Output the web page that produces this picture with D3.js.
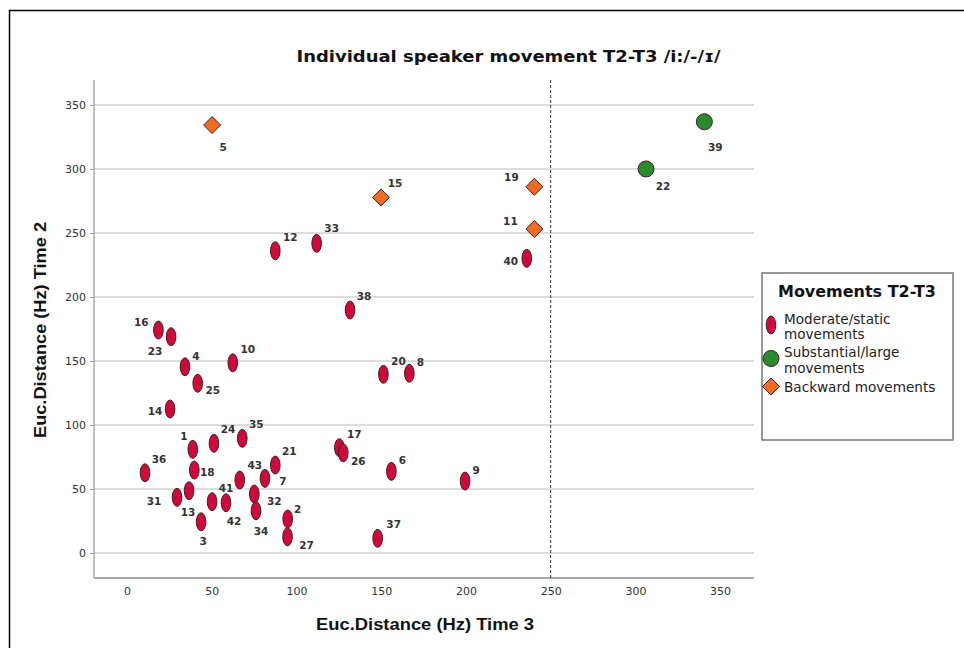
<!DOCTYPE html>
<html><head><meta charset="utf-8">
<script src="https://cdn.jsdelivr.net/npm/d3@7/dist/d3.min.js"></script>
<style>
html,body{margin:0;padding:0;background:#fff;}
svg{display:block;}
</style></head>
<body>
<svg id="chart" width="964" height="648"></svg>
<script>
// ---- data ----
const speakerIds = [1,2,3,4,5,6,7,8,9,10,11,12,13,14,15,16,17,18,19,20,21,22,23,24,25,26,27,31,32,33,34,35,36,37,38,39,40,41,42,43];
const time3 = [38.8,94.8,43.7,34.2,50.2,156.0,81.4,166.6,199.5,62.4,240.4,87.5,36.6,25.4,149.9,18.5,125.3,39.7,240.4,151.3,87.5,306.3,26.0,51.3,41.7,127.6,94.7,29.5,75.1,111.9,76.1,68.0,10.6,147.9,131.6,340.7,235.9,50.2,58.4,66.5];
const time2 = [81.0,26.6,24.4,145.5,334.3,63.8,58.3,140.4,56.2,148.6,253.1,236.1,48.7,112.5,277.8,174.2,82.3,64.8,286.1,139.6,68.7,300.0,169.0,85.7,132.6,78.3,12.7,43.5,46.1,241.9,33.0,89.6,62.7,11.5,189.8,336.9,230.2,40.1,39.3,57.0];
const groupNames = ["Moderate/static movements","Substantial/large movements","Backward movements"];
const backwardIds = [5,11,15,19];
const substantialIds = [22,39];
const tickValues = [0,50,100,150,200,250,300,350];
const referenceX = 250;
const chartTitle = "Individual speaker movement T2-T3  /i:/-/\u026A/";
const xTitle = "Euc.Distance (Hz) Time 3";
const yTitle = "Euc.Distance (Hz) Time 2";
const legendTitle = "Movements T2-T3";

// ---- layout (label offsets in px, not data) ----
const labelOffsets = {
 1:[-9,-13],2:[10,-10],3:[2,19],4:[11,-11],5:[11,22],6:[11,-11],7:[18,3],8:[11,-11],9:[11,-11],10:[15,-14],
 11:[-24,-8],12:[15,-14],13:[-1,21],14:[-15,2],15:[14,-14],16:[-17,-8],17:[15,-14],18:[13,2],19:[-23,-10],20:[15,-13],
 21:[14,-14],22:[17,17],23:[-16,14],24:[14,-14],25:[15,7],26:[15,8],27:[19,8],31:[-23,4],32:[20,7],33:[15,-15],
 34:[5,20],35:[14,-14],36:[14,-14],37:[16,-14],38:[14,-14],39:[11,25],40:[-16,3],41:[14,-14],42:[8,18],43:[15,-15]
};

const groupOf = id => backwardIds.includes(id) ? 2 : (substantialIds.includes(id) ? 1 : 0);
const points = speakerIds.map((id,i)=>({id, x:time3[i], y:time2[i], g:groupOf(id)}));

const fills = ["#d1083a","#2a8a2c","#f26b22"];
const strokeCol = "#3a2222";
const fontTick = "'DejaVu Sans', Verdana, sans-serif";

const svg = d3.select("#chart");
// outer frame
svg.append("rect").attr("x",9.5).attr("y",10.5).attr("width",1000).attr("height",700)
  .attr("fill","none").attr("stroke","#000").attr("stroke-width",1.5);

const plot = {left:94, right:754, top:80, bottom:578};
const x = d3.scaleLinear().domain([-19.5,370]).range([plot.left, plot.right]);
const y = d3.scaleLinear().domain([-19.5,369.5]).range([plot.bottom, plot.top]);

// gridlines
svg.append("g").selectAll("line").data(tickValues).join("line")
  .attr("x1",plot.left).attr("x2",plot.right)
  .attr("y1",d=>y(d)).attr("y2",d=>y(d))
  .attr("stroke","#d2d2d2").attr("stroke-width",1.5);

// y axis
const yAxis = svg.append("g").attr("transform",`translate(${plot.left},0)`)
  .call(d3.axisLeft(y).tickValues(tickValues).tickSize(4).tickPadding(4));
yAxis.select(".domain").remove();
yAxis.selectAll(".tick line").attr("stroke","#999").attr("stroke-width",1);
yAxis.selectAll(".tick text").attr("font-family",fontTick).attr("font-size",11).attr("fill","#333");
svg.append("line").attr("x1",plot.left).attr("x2",plot.left).attr("y1",plot.top).attr("y2",plot.bottom)
  .attr("stroke","#a8a8a8").attr("stroke-width",1.5);

// x axis
const xAxis = svg.append("g").attr("transform",`translate(0,${plot.bottom})`)
  .call(d3.axisBottom(x).tickValues(tickValues).tickSize(0).tickPadding(9));
xAxis.select(".domain").remove();
xAxis.selectAll(".tick text").attr("font-family",fontTick).attr("font-size",11).attr("fill","#333");
svg.append("line").attr("x1",plot.left).attr("x2",plot.right).attr("y1",plot.bottom).attr("y2",plot.bottom)
  .attr("stroke","#a8a8a8").attr("stroke-width",2);

// reference line
svg.append("line").attr("x1",x(referenceX)).attr("x2",x(referenceX))
  .attr("y1",plot.top).attr("y2",plot.bottom)
  .attr("stroke","#333").attr("stroke-width",1).attr("stroke-dasharray","3,2");

// markers
function drawMarker(sel, g){
  if(g===0){
    sel.append("ellipse").attr("rx",4.8).attr("ry",9);
  } else if(g===1){
    sel.append("circle").attr("r",8);
  } else {
    sel.append("path").attr("d","M0,-8.5L8.5,0L0,8.5L-8.5,0Z");
  }
  sel.selectAll("ellipse,circle,path").attr("fill",fills[g]).attr("stroke",strokeCol).attr("stroke-width",1);
}
const mk = svg.append("g").selectAll("g").data(points).join("g")
  .attr("transform",d=>`translate(${x(d.x)},${y(d.y)})`);
mk.each(function(d){ drawMarker(d3.select(this), d.g); });

// point labels
svg.append("g").selectAll("text").data(points).join("text")
  .attr("x",d=>x(d.x)+labelOffsets[d.id][0])
  .attr("y",d=>y(d.y)+labelOffsets[d.id][1])
  .attr("text-anchor","middle").attr("dominant-baseline","central")
  .attr("font-family",fontTick).attr("font-weight","bold").attr("font-size",10.5).attr("fill","#333")
  .text(d=>d.id);

// titles
svg.append("text").attr("x",508.5).attr("y",62).attr("text-anchor","middle")
  .attr("font-family",fontTick).attr("font-weight","bold").attr("font-size",15.5).attr("fill","#111")
  .attr("textLength",424).attr("lengthAdjust","spacingAndGlyphs")
  .text(chartTitle);
svg.append("text").attr("x",425).attr("y",630).attr("text-anchor","middle")
  .attr("font-family","'Liberation Sans Narrow','Arial Narrow','Liberation Sans',sans-serif").attr("font-weight","bold").attr("font-size",17).attr("fill","#111")
  .attr("textLength",218).attr("lengthAdjust","spacingAndGlyphs")
  .text(xTitle);
svg.append("text").attr("transform","translate(46,330) rotate(-90)").attr("text-anchor","middle")
  .attr("font-family","'Liberation Sans Narrow','Arial Narrow','Liberation Sans',sans-serif").attr("font-weight","bold").attr("font-size",17).attr("fill","#111")
  .attr("textLength",216).attr("lengthAdjust","spacingAndGlyphs")
  .text(yTitle);

// legend
const lg = svg.append("g");
lg.append("rect").attr("x",762).attr("y",273).attr("width",191).attr("height",167)
  .attr("fill","#fff").attr("stroke","#777").attr("stroke-width",1.5);
lg.append("text").attr("x",857).attr("y",297).attr("text-anchor","middle")
  .attr("font-family",fontTick).attr("font-weight","bold").attr("font-size",15).attr("fill","#111")
  .attr("textLength",158).attr("lengthAdjust","spacingAndGlyphs")
  .text(legendTitle);
const legendItems = [
  {g:0, lines:["Moderate/static","movements"], my:325, ty:[318.5,333.5]},
  {g:1, lines:["Substantial/large","movements"], my:358.5, ty:[352,367.5]},
  {g:2, lines:["Backward movements"], my:386.5, ty:[386.5]}
];
legendItems.forEach(it=>{
  const m = lg.append("g").attr("transform",`translate(771,${it.my})`);
  drawMarker(m, it.g);
  it.lines.forEach((ln,j)=>{
    lg.append("text").attr("x",784).attr("y",it.ty[j]).attr("dominant-baseline","central")
      .attr("font-family",fontTick).attr("font-size",13.6).attr("fill","#222")
      .text(ln);
  });
});
</script>
</body></html>
